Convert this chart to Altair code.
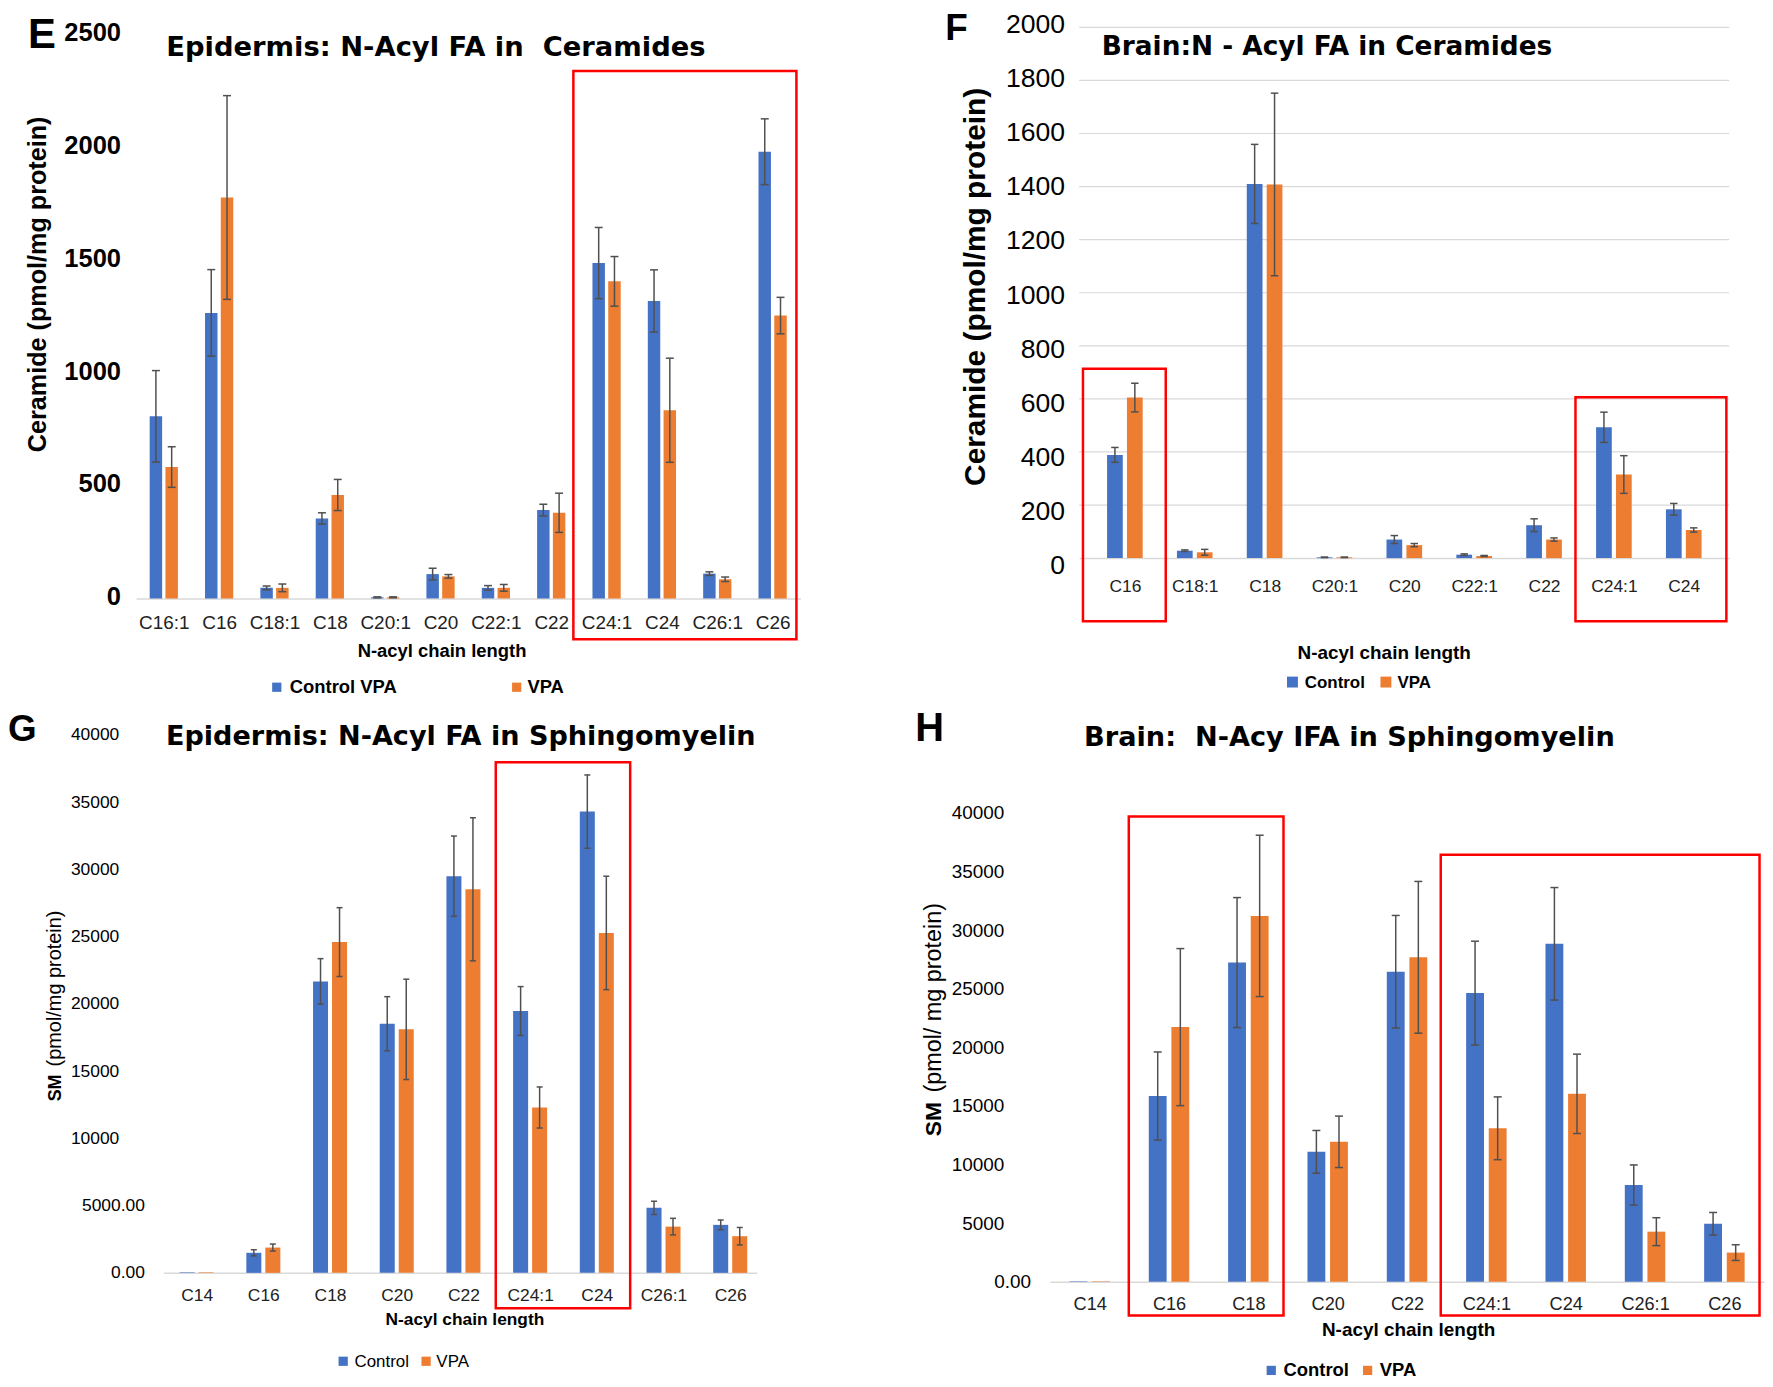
import json
import pandas as pd
import altair as alt

# ---------------- data ----------------
# Panel E: Epidermis ceramides
E_cats = ["C16:1", "C16", "C18:1", "C18", "C20:1", "C20", "C22:1", "C22", "C24:1", "C24", "C26:1", "C26"]
E_ctrl = [808, 1267, 47, 355, 5, 108, 47, 392, 1488, 1320, 110, 1982]
E_ctrl_err = [203, 192, 8, 25, 2, 26, 10, 26, 158, 138, 8, 146]
E_vpa = [583, 1779, 47, 459, 5, 98, 47, 380, 1407, 835, 85, 1255]
E_vpa_err = [90, 452, 17, 69, 2, 8, 15, 87, 110, 231, 10, 81]

# Panel F: Brain ceramides
F_cats = ["C16", "C18:1", "C18", "C20:1", "C20", "C22:1", "C22", "C24:1", "C24"]
F_ctrl = [389, 28, 1410, 3, 70, 13, 124, 493, 184]
F_ctrl_err = [28, 3, 149, 1, 15, 3, 24, 57, 22]
F_vpa = [605, 22, 1408, 3, 49, 8, 70, 315, 106]
F_vpa_err = [54, 11, 344, 1, 6, 2, 6, 71, 8]

# Panel G: Epidermis sphingomyelin
G_cats = ["C14", "C16", "C18", "C20", "C22", "C24:1", "C24", "C26:1", "C26"]
G_ctrl = [40, 1492, 21670, 18524, 29489, 19465, 34290, 4834, 3569]
G_ctrl_err = [0, 228, 1690, 2010, 2985, 1817, 2725, 490, 360]
G_vpa = [40, 1882, 24590, 18102, 28516, 12295, 25272, 3439, 2725]
G_vpa_err = [0, 260, 2560, 3730, 5320, 1525, 4217, 616, 650]

# Panel H: Brain sphingomyelin
H_cats = ["C14", "C16", "C18", "C20", "C22", "C24:1", "C24", "C26:1", "C26"]
H_ctrl = [40, 15851, 27237, 11088, 26456, 24633, 28837, 8260, 4949]
H_ctrl_err = [0, 3758, 5544, 1824, 4800, 4427, 4800, 1712, 967]
H_vpa = [40, 21730, 31219, 11944, 27684, 13098, 16037, 4279, 2493]
H_vpa_err = [0, 6700, 6883, 2195, 6474, 2679, 3386, 1191, 670]

# highlighted regions (category-index units, value units)
E_boxes = [dict(x0=7.40, x1=11.43, y0=-181, y1=2340)]
F_boxes = [dict(x0=-0.60, x1=0.585, y0=-238, y1=714), dict(x0=6.45, x1=8.61, y0=-238, y1=606)]
G_boxes = [dict(x0=4.485, x1=6.50, y0=-2630, y1=37963)]
H_boxes = [dict(x0=0.493, x1=2.443, y0=-2870, y1=39703), dict(x0=4.425, x1=8.443, y0=-2870, y1=36425)]

# ---------------- style ----------------
W, H = 1765, 1373
BLUE = "#4472C4"
ORANGE = "#ED7D31"
ERR = "#505050"
RED = "#FF0000"
AXIS_GREY = "#D9D9D9"
SANS = "Liberation Sans"
TFONT = "DejaVu Sans"
BAR_W = 0.225
BAR_GAP = 0.06


def make_panel(cats, ctrl, ctrl_err, vpa, vpa_err, xdom, xrng, ydom, yrng, yvals,
               ylab, xlab, boxes, cap, grid_vals=None):
    rows = []
    for i, c in enumerate(cats):
        rows.append(dict(idx=i, cat=c, group="Control", value=ctrl[i], err=ctrl_err[i]))
        rows.append(dict(idx=i, cat=c, group="VPA", value=vpa[i], err=vpa_err[i]))
    df = pd.DataFrame(rows)
    xs = alt.Scale(domain=xdom, range=xrng, nice=False, zero=False)
    ys = alt.Scale(domain=ydom, range=yrng, nice=False, zero=False)

    base = alt.Chart(df).transform_calculate(
        x0=f"datum.idx + (datum.group == 'Control' ? {-(BAR_GAP / 2 + BAR_W)} : {BAR_GAP / 2})"
    ).transform_calculate(
        x1=f"datum.x0 + {BAR_W}",
        xc=f"datum.x0 + {BAR_W / 2}",
        lo="datum.value - datum.err",
        hi="datum.value + datum.err",
    )

    xaxis = alt.Axis(
        orient="bottom", values=list(range(len(cats))),
        labelExpr=f"{json.dumps(cats)}[datum.value]",
        ticks=False, grid=False, domain=True, domainColor=AXIS_GREY, domainWidth=1.5,
        labelFont=SANS, labelFontSize=xlab["size"], labelColor="#222222",
        labelPadding=xlab["pad"], labelFlush=False, labelOverlap=False,
        title=None, offset=yrng[0] - H,
    )
    yaxis_kw = dict(
        orient="left", values=yvals, ticks=False, grid=False, domain=False,
        labelFont=SANS, labelFontSize=ylab["size"], labelFontWeight=ylab.get("weight", "normal"),
        labelColor="#000000", labelPadding=ylab["pad"], labelFlush=False, labelOverlap=False,
        title=None, offset=-xrng[0],
    )
    if "expr" in ylab:
        yaxis_kw["labelExpr"] = ylab["expr"]
    else:
        yaxis_kw["format"] = "d"
    if "loff" in ylab:
        yaxis_kw["labelOffset"] = ylab["loff"]
    yaxis = alt.Axis(**yaxis_kw)

    def X(field):
        return alt.X(field, scale=xs, axis=xaxis)

    def Y(field):
        return alt.Y(field, scale=ys, axis=yaxis)

    layers = []
    if grid_vals is not None:
        gdf = pd.DataFrame({"g": grid_vals})
        grid = alt.Chart(gdf).transform_calculate(
            gx0=str(xdom[0]), gx1=str(xdom[1])
        ).mark_rule(color=AXIS_GREY, strokeWidth=1.2).encode(
            x=X("gx0:Q"), x2="gx1:Q", y=Y("g:Q"),
        )
        layers.append(grid)

    bars = base.mark_rect().encode(
        x=X("x0:Q"),
        x2="x1:Q",
        y=Y("value:Q"),
        y2=alt.datum(0),
        color=alt.Color("group:N", scale=alt.Scale(domain=["Control", "VPA"], range=[BLUE, ORANGE]),
                        legend=None),
    )
    layers.append(bars)

    eb = base.transform_filter("datum.err > 0")
    rule = eb.mark_rule(color=ERR, strokeWidth=1.5).encode(
        x=X("xc:Q"), y=Y("lo:Q"), y2="hi:Q",
    )
    cap_hi = eb.mark_tick(orient="horizontal", size=cap, thickness=1.5, color=ERR, opacity=1).encode(
        x=X("xc:Q"), y=Y("hi:Q"),
    )
    cap_lo = eb.mark_tick(orient="horizontal", size=cap, thickness=1.5, color=ERR, opacity=1).encode(
        x=X("xc:Q"), y=Y("lo:Q"),
    )
    layers += [rule, cap_hi, cap_lo]

    bdf = pd.DataFrame(boxes)
    box = alt.Chart(bdf).mark_rect(fillOpacity=0, stroke=RED, strokeWidth=2.5).encode(
        x=X("x0:Q"), x2="x1:Q", y=Y("y0:Q"), y2="y1:Q",
    )
    layers.append(box)
    return alt.layer(*layers)


def text(txt, x, y, size, weight="normal", font=SANS, align="left", angle=0, color="#000000"):
    kw = dict(fontSize=size, fontWeight=weight, font=font, align=align,
              baseline="alphabetic", color=color)
    if angle:
        kw["angle"] = angle
    return alt.Chart(pd.DataFrame({"t": [txt]})).mark_text(**kw).encode(
        text="t:N", x=alt.value(x), y=alt.value(y)
    )


def square(x, y, size, color):
    return alt.Chart(pd.DataFrame({"k": [0]})).mark_square(
        size=size, color=color, opacity=1, filled=True
    ).encode(x=alt.value(x), y=alt.value(y))


# the brain-ceramide tick labels sit on a slightly wider spacing than the gridlines
F_label_shift = {
    "condition": [
        {"test": f"datum.value == {v}", "value": round(7.4 - v * 0.00505, 1)}
        for v in range(0, 2001, 200) if v != 1000
    ],
    "value": 2.4,
}

panel_E = make_panel(
    E_cats, E_ctrl, E_ctrl_err, E_vpa, E_vpa_err,
    xdom=[-0.5, 11.5], xrng=[128.7, 795.9], ydom=[0, 2500], yrng=[590, 24],
    yvals=[0, 500, 1000, 1500, 2000, 2500],
    ylab=dict(size=25.6, weight="bold", pad=15.7, loff=-2),
    xlab=dict(size=19, pad=15.5), boxes=E_boxes, cap=8,
)
panel_F = make_panel(
    F_cats, F_ctrl, F_ctrl_err, F_vpa, F_vpa_err,
    xdom=[-0.655, 8.65], xrng=[1076, 1729], ydom=[0, 2000], yrng=[549.5, 16.3],
    yvals=list(range(0, 2001, 200)),
    ylab=dict(size=26.7, pad=14.7, loff=F_label_shift),
    xlab=dict(size=17.5, pad=20), boxes=F_boxes, cap=7.5,
    grid_vals=list(range(200, 2001, 200)),
)
panel_G = make_panel(
    G_cats, G_ctrl, G_ctrl_err, G_vpa, G_vpa_err,
    xdom=[-0.5, 8.4], xrng=[156, 752.3], ydom=[0, 40000], yrng=[1267.5, 727],
    yvals=list(range(0, 40001, 5000)),
    ylab=dict(size=17.5,
              pad={"condition": {"test": "datum.value <= 5000", "value": 19}, "value": 44.7},
              expr="datum.value <= 5000 ? format(datum.value, '.2f') : format(datum.value, 'd')"),
    xlab=dict(size=17.5, pad=13.6), boxes=G_boxes, cap=6,
)
panel_H = make_panel(
    H_cats, H_ctrl, H_ctrl_err, H_vpa, H_vpa_err,
    xdom=[-0.5, 8.5], xrng=[1046.75, 1764.05], ydom=[0, 40000], yrng=[1276.5, 805.5],
    yvals=list(range(0, 40001, 5000)),
    ylab=dict(size=19,
              pad={"condition": {"test": "datum.value == 0", "value": 19.5}, "value": 46.5},
              expr="datum.value == 0 ? '0.00' : format(datum.value, 'd')"),
    xlab=dict(size=18.2, pad=13.6), boxes=H_boxes, cap=8,
)

annotations = [
    # panel letters
    text("E", 20, 37, 42, "bold"),
    text("F", 941.6, 29, 37, "bold"),
    text("G", 0, 733.7, 37, "bold"),
    text("H", 911.5, 733.6, 40, "bold"),
    # titles
    text("Epidermis: N-Acyl FA in\u00a0 Ceramides", 159, 45, 27.5, "bold", TFONT),
    text("Brain:N - Acyl FA in Ceramides", 1098.7, 44.3, 26.5, "bold", TFONT),
    text("Epidermis: N-Acyl FA in Sphingomyelin", 158.7, 737, 27.2, "bold", TFONT),
    text("Brain:\u00a0 N-Acy IFA in Sphingomyelin", 1081, 738, 27.3, "bold", TFONT),
    # y titles
    text("Ceramide (pmol/mg protein)", 38.5, 274.5, 25.3, "bold", align="center", angle=270),
    text("Ceramide (pmol/mg protein)", 981.7, 277, 30, "bold", align="center", angle=270),
    text("SM", 53.4, 1095.2, 18, "bold", angle=270),
    text("(pmol/mg protein)", 53.4, 1060.1, 20, angle=270),
    text("SM", 937, 1130.2, 23, "bold", angle=270),
    text("(pmol/ mg protein)", 937, 1086.4, 23.5, angle=270),
    # x titles
    text("N-acyl chain length", 436, 648.6, 18.5, "bold", align="center"),
    text("N-acyl chain length", 1382.5, 650.5, 19, "bold", align="center"),
    text("N-acyl chain length", 459, 1319.9, 17.4, "bold", align="center"),
    text("N-acyl chain length", 1407, 1330.5, 19, "bold", align="center"),
    # legends
    square(270, 679.2, 86, BLUE), text("Control VPA", 283, 685.1, 18.5, "bold"),
    square(511, 679.2, 86, ORANGE), text("VPA", 521.8, 685.1, 18.5, "bold"),
    square(1290.3, 674, 120, BLUE), text("Control", 1302.7, 680.1, 17, "bold"),
    square(1384.2, 674, 120, ORANGE), text("VPA", 1395.9, 680.1, 17, "bold"),
    square(336.7, 1356.3, 86, BLUE), text("Control", 348, 1362.4, 17),
    square(420, 1356.3, 86, ORANGE), text("VPA", 430.3, 1362.4, 17),
    square(1269, 1365.5, 86, BLUE), text("Control", 1281.3, 1371.6, 18.5, "bold"),
    square(1365.8, 1365.5, 86, ORANGE), text("VPA", 1378, 1371.6, 18.5, "bold"),
]

chart = alt.layer(panel_E, panel_F, panel_G, panel_H, *annotations).resolve_scale(
    x="independent", y="independent"
).properties(
    width=W, height=H,
    autosize=alt.AutoSizeParams(type="none", contains="padding"),
    padding=0,
).configure_view(strokeWidth=0)

chart.save("out.html", embed_options={"renderer": "svg", "actions": False})
